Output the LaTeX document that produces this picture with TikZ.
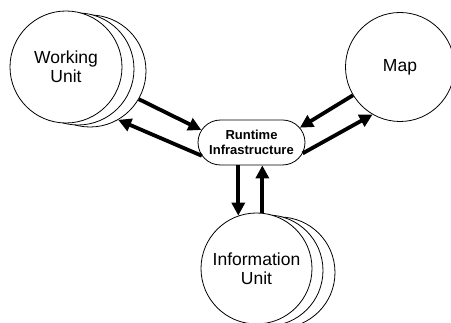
\documentclass[tikz,border=0pt]{standalone}
\usepackage{fontspec}
\setmainfont{Liberation Sans}
\usetikzlibrary{arrows.meta,shapes.misc}
\begin{document}
\begin{tikzpicture}[x=1pt,y=-1pt,
  unit/.style={circle,draw,line width=0.8pt,fill=white,minimum size=112pt,
    inner sep=0pt,align=center,font=\fontsize{17.5}{19}\selectfont},
  infra/.style={rounded rectangle,draw,line width=0.8pt,fill=white,
    minimum width=107pt,minimum height=45pt,inner sep=0pt,align=center,
    font=\fontsize{13}{15}\selectfont\bfseries},
  flow/.style={line width=3.8pt,-{Triangle[length=13pt,width=13pt]}}]
\useasboundingbox (0,0) rectangle (451,323);

% working units (stacked copies)
\node[unit] (wu3) at (90,71) {};
\node[unit] (wu2) at (78,69) {};
\node[unit] (wu) at (66,67) {Working\\Unit};

% map
\node[unit,minimum size=109pt] (map) at (400,67) {Map};

% information units (stacked copies)
\node[unit,minimum size=111pt] (iu3) at (279.5,272.5) {};
\node[unit,minimum size=111pt] (iu2) at (267.5,270.5) {};
\node[unit,minimum size=111pt] (iu) at (256.5,268.5) {Information\\Unit};

% runtime infrastructure
\node[infra] (ri) at (251.5,142.5) {Runtime\\Infrastructure};

% message flows
\draw[flow] (wu3.-30) -- (ri.166);
\draw[flow] (ri.195) -- (wu3.-60);
\draw[flow] (map.211) -- (ri.17);
\draw[flow] (ri.-12) -- (map.240);
\draw[flow] (iu.109 |- ri.south) -- (iu.109);
\draw[flow] (iu.84) -- (iu.84 |- ri.south);
\end{tikzpicture}
\end{document}
